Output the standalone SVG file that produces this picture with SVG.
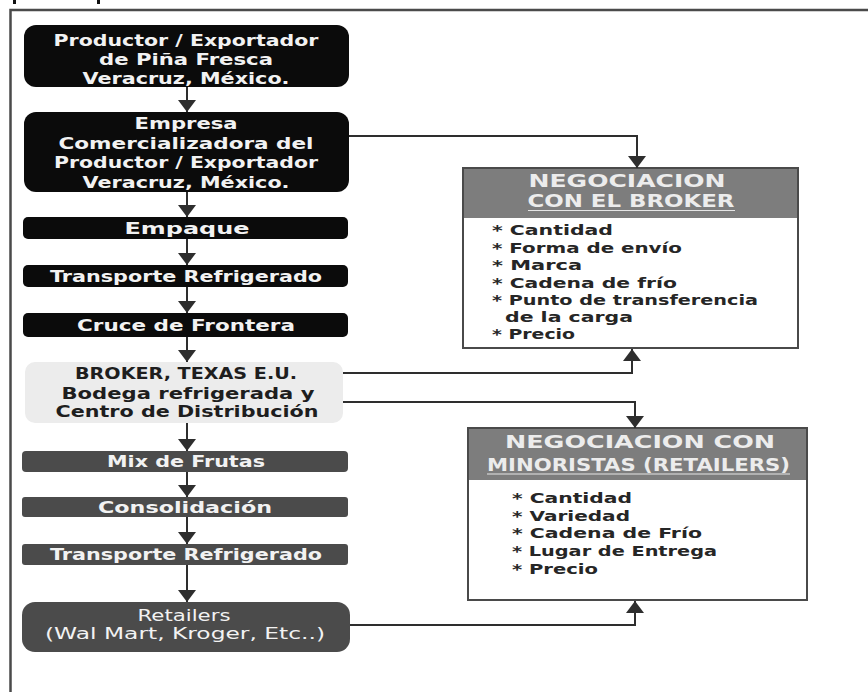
<svg xmlns="http://www.w3.org/2000/svg" width="868" height="692" viewBox="0 0 868 692">
  <style>
    .lbl { font-family: "DejaVu Sans", "Liberation Sans", sans-serif; font-weight: bold; font-size: 15px; text-anchor: middle; }
    .reg { font-weight: normal; }
    .light { fill: #f2f2f2; }
    .dark { fill: #1e1e1e; }
    .blk { fill: #0b0b0b; }
    .gry { fill: #4b4b4b; }
    .pale { fill: #ececec; }
    .hdr { font-family: "DejaVu Sans", "Liberation Sans", sans-serif; font-weight: bold; font-size: 17px; text-anchor: middle; fill: #ececec; }
    .item { font-family: "DejaVu Sans", "Liberation Sans", sans-serif; font-weight: bold; font-size: 13.5px; fill: #262626; }
    .frame { stroke: #4a4a4a; stroke-width: 2.5; fill: none; }
    .box { fill: #ffffff; stroke: #4a4a4a; stroke-width: 2; }
    .band { fill: #7d7d7d; }
    .conn { stroke: #2e2e2e; stroke-width: 2; fill: none; marker-end: url(#head); }
    .uline { stroke: #e6e6e6; stroke-width: 1.2; }
  </style>
  <defs>
    <marker id="head" viewBox="0 0 12 18" refX="12" refY="9" markerWidth="12" markerHeight="18" markerUnits="userSpaceOnUse" orient="auto">
      <path d="M0,0 L12,9 L0,18 z" fill="#2e2e2e"/>
    </marker>
  </defs>

  <rect width="868" height="692" fill="#ffffff"/>

  <!-- page frame -->
  <path class="frame" d="M10.5,692 V10 H868"/>
  <rect x="13" y="0" width="3" height="4" fill="#111"/>
  <rect x="97" y="0" width="3" height="4" fill="#111"/>

  <!-- supply chain steps -->
  <g id="productor">
    <rect class="blk" x="24" y="25" width="325" height="62" rx="12"/>
    <text class="lbl light" x="186" y="45.5" textLength="265" lengthAdjust="spacingAndGlyphs">Productor / Exportador</text>
    <text class="lbl light" x="186" y="64.5" textLength="174" lengthAdjust="spacingAndGlyphs">de Piña Fresca</text>
    <text class="lbl light" x="186" y="83.5" textLength="207" lengthAdjust="spacingAndGlyphs">Veracruz, México.</text>
  </g>
  <g id="comercializadora">
    <rect class="blk" x="24" y="112" width="325" height="80" rx="12"/>
    <text class="lbl light" x="186" y="128.5" textLength="103" lengthAdjust="spacingAndGlyphs">Empresa</text>
    <text class="lbl light" x="186" y="148.5" textLength="255" lengthAdjust="spacingAndGlyphs">Comercializadora del</text>
    <text class="lbl light" x="186" y="168" textLength="264" lengthAdjust="spacingAndGlyphs">Productor / Exportador</text>
    <text class="lbl light" x="186" y="187.5" textLength="207" lengthAdjust="spacingAndGlyphs">Veracruz, México.</text>
  </g>
  <g id="empaque">
    <rect class="blk" x="23" y="217" width="325" height="22" rx="5"/>
    <text class="lbl light" x="187" y="233.5" textLength="125" lengthAdjust="spacingAndGlyphs">Empaque</text>
  </g>
  <g id="transporte1">
    <rect class="blk" x="23" y="265" width="325" height="22" rx="5"/>
    <text class="lbl light" x="186" y="281.5" textLength="272" lengthAdjust="spacingAndGlyphs">Transporte Refrigerado</text>
  </g>
  <g id="frontera">
    <rect class="blk" x="23" y="313" width="325" height="24" rx="5"/>
    <text class="lbl light" x="186" y="330.5" textLength="218" lengthAdjust="spacingAndGlyphs">Cruce de Frontera</text>
  </g>
  <g id="broker">
    <rect class="pale" x="25" y="362" width="318" height="61" rx="10"/>
    <text class="lbl dark" x="186" y="378.5" textLength="222" lengthAdjust="spacingAndGlyphs">BROKER, TEXAS E.U.</text>
    <text class="lbl dark" x="188" y="398.5" textLength="253" lengthAdjust="spacingAndGlyphs">Bodega refrigerada y</text>
    <text class="lbl dark" x="187" y="416.5" textLength="263" lengthAdjust="spacingAndGlyphs">Centro de Distribución</text>
  </g>
  <g id="mix">
    <rect class="gry" x="22" y="451" width="326" height="21" rx="4"/>
    <text class="lbl light" x="186" y="467" textLength="158" lengthAdjust="spacingAndGlyphs">Mix de Frutas</text>
  </g>
  <g id="consolidacion">
    <rect class="gry" x="22" y="497" width="326" height="20" rx="3"/>
    <text class="lbl light" x="185" y="512.5" textLength="174" lengthAdjust="spacingAndGlyphs">Consolidación</text>
  </g>
  <g id="transporte2">
    <rect class="gry" x="22" y="544" width="326" height="21" rx="3"/>
    <text class="lbl light" x="186" y="560" textLength="272" lengthAdjust="spacingAndGlyphs">Transporte Refrigerado</text>
  </g>
  <g id="retailers">
    <rect class="gry" x="22" y="602" width="328" height="50" rx="13"/>
    <text class="lbl reg light" x="184" y="620.5" textLength="93" lengthAdjust="spacingAndGlyphs">Retailers</text>
    <text class="lbl reg light" x="185" y="638.5" textLength="280" lengthAdjust="spacingAndGlyphs">(Wal Mart, Kroger, Etc..)</text>
  </g>

  <!-- negotiation panels -->
  <g id="neg-broker">
    <rect class="box" x="463" y="168" width="335" height="180"/>
    <rect class="band" x="464" y="169" width="333" height="49"/>
    <text class="hdr" x="627" y="186.5" textLength="197" lengthAdjust="spacingAndGlyphs">NEGOCIACION</text>
    <text class="hdr" x="631" y="206.5" textLength="207" lengthAdjust="spacingAndGlyphs">CON EL BROKER</text>
    <line class="uline" x1="528" y1="210.5" x2="735" y2="210.5"/>
    <text class="item" x="492" y="235" textLength="121" lengthAdjust="spacingAndGlyphs">* Cantidad</text>
    <text class="item" x="492" y="252.5" textLength="190" lengthAdjust="spacingAndGlyphs">* Forma de envío</text>
    <text class="item" x="492" y="270" textLength="90" lengthAdjust="spacingAndGlyphs">* Marca</text>
    <text class="item" x="492" y="287.5" textLength="185" lengthAdjust="spacingAndGlyphs">* Cadena de frío</text>
    <text class="item" x="492" y="304.5" textLength="266" lengthAdjust="spacingAndGlyphs">* Punto de transferencia</text>
    <text class="item" x="505" y="321.5" textLength="128" lengthAdjust="spacingAndGlyphs">de la carga</text>
    <text class="item" x="492" y="338.5" textLength="83" lengthAdjust="spacingAndGlyphs">* Precio</text>
  </g>
  <g id="neg-retailers">
    <rect class="box" x="468" y="428" width="339" height="172"/>
    <rect class="band" x="469" y="429" width="337" height="51"/>
    <text class="hdr" x="640" y="448" textLength="270" lengthAdjust="spacingAndGlyphs">NEGOCIACION CON</text>
    <text class="hdr" x="638.5" y="471" textLength="303" lengthAdjust="spacingAndGlyphs">MINORISTAS (RETAILERS)</text>
    <line class="uline" x1="487" y1="474" x2="790" y2="474"/>
    <text class="item" x="512" y="502.5" textLength="120" lengthAdjust="spacingAndGlyphs">* Cantidad</text>
    <text class="item" x="512" y="520.5" textLength="118" lengthAdjust="spacingAndGlyphs">* Variedad</text>
    <text class="item" x="512" y="538" textLength="190" lengthAdjust="spacingAndGlyphs">* Cadena de Frío</text>
    <text class="item" x="512" y="555.5" textLength="205" lengthAdjust="spacingAndGlyphs">* Lugar de Entrega</text>
    <text class="item" x="512" y="573.5" textLength="86" lengthAdjust="spacingAndGlyphs">* Precio</text>
  </g>

  <!-- connectors -->
  <g id="connectors">
    <path class="conn" d="M187,87 V112"/>
    <path class="conn" d="M187,192 V217"/>
    <path class="conn" d="M187,239 V265"/>
    <path class="conn" d="M187,287 V313"/>
    <path class="conn" d="M187,337 V362"/>
    <path class="conn" d="M187,423 V451"/>
    <path class="conn" d="M187,472 V497"/>
    <path class="conn" d="M187,517 V544"/>
    <path class="conn" d="M187,565 V602"/>
    <path class="conn" d="M349,136 H637 V168"/>
    <path class="conn" d="M343,373 H632 V349"/>
    <path class="conn" d="M343,402 H635 V428"/>
    <path class="conn" d="M350,625 H635 V601"/>
  </g>
</svg>
